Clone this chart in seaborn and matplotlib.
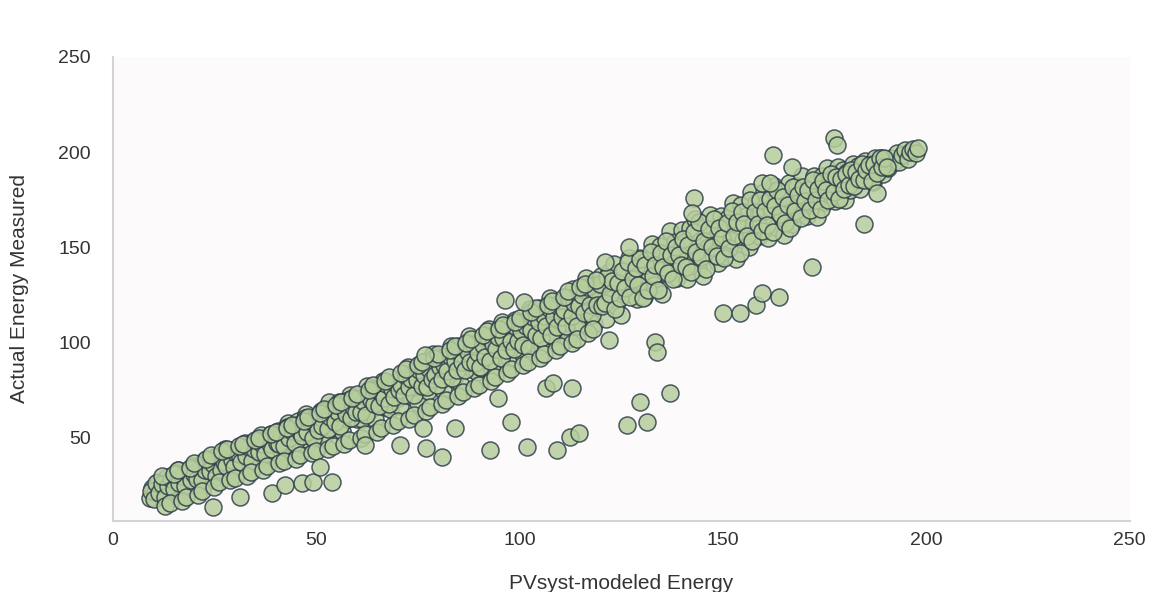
import numpy as np
import pandas as pd
import seaborn as sns
import matplotlib.pyplot as plt

# main diagonal band (modeled, measured), first pass
band_x = [9, 9.7, 10.4, 11, 11.8, 12.5, 13.2, 14, 14.6, 15.3, 16, 16.8, 17.5, 18.3, 19, 19.7,
          20.3, 21, 21.6, 22.3, 23, 23.6, 24.2, 25, 25.7, 26.3, 27, 27.6, 28.3, 29, 29.5, 30,
          30.6, 31.2, 31.9, 32.5, 33.1, 33.8, 34.4, 35, 35.7, 36.3, 37, 37.6, 38.2, 38.9, 39.5, 40,
          40.6, 41.2, 41.8, 42.5, 43.1, 43.7, 44.4, 45, 45.6, 46.3, 46.9, 47.5, 48.2, 48.8, 49.4, 50,
          50.6, 51.2, 51.9, 52.5, 53.1, 53.8, 54.4, 55, 55.6, 56.3, 56.9, 57.5, 58.2, 58.8, 59.4, 60,
          60.6, 61.2, 61.9, 62.5, 63.1, 63.8, 64.4, 65, 65.6, 66.3, 66.9, 67.5, 68.2, 68.8, 69.4, 70,
          70.6, 71.2, 71.9, 72.5, 73.1, 73.8, 74.4, 75, 75.6, 76.3, 76.9, 77.5, 78.2, 78.8, 79.4, 80,
          80.6, 81.2, 81.9, 82.5, 83.1, 83.8, 84.4, 85, 85.6, 86.3, 86.9, 87.5, 88.2, 88.8, 89.4, 90,
          90.6, 91.2, 91.9, 92.5, 93.1, 93.8, 94.4, 95, 95.6, 96.3, 96.9, 97.5, 98.2, 98.8, 99.4, 100,
          100.6, 101.2, 101.9, 102.5, 103.1, 103.8, 104.4, 105, 105.6, 106.3, 106.9, 107.5, 108.2, 108.8, 109.4, 110,
          110.6, 111.2, 111.9, 112.5, 113.1, 113.8, 114.4, 115, 115.6, 116.3, 116.9, 117.5, 118.2, 118.8, 119.4, 120,
          120.6, 121.2, 121.9, 122.5, 123.1, 123.8, 124.4, 125, 125.6, 126.3, 126.9, 127.5, 128.2, 128.8, 129.4, 130,
          130.6, 131.2, 131.9, 132.5, 133.1, 133.8, 134.4, 135, 135.6, 136.3, 136.9, 137.5, 138.2, 138.8, 139.4, 140,
          140.6, 141.2, 141.9, 142.5, 143.1, 143.8, 144.4, 145, 145.6, 146.3, 146.9, 147.5, 148.2, 148.8, 149.4, 150,
          150.6, 151.2, 151.9, 152.5, 153.1, 153.8, 154.4, 155, 155.6, 156.3, 156.9, 157.5, 158.2, 158.8, 159.4, 160,
          160.6, 161.2, 161.9, 162.5, 163.1, 163.8, 164.4, 165, 165.6, 166.3, 166.9, 167.5, 168.2, 168.8, 169.4, 170,
          170.6, 171.2, 171.9, 172.5, 173.1, 173.8, 174.4, 175, 175.6, 176.3, 176.9, 177.5, 178.2, 178.8, 179.4, 180,
          180.6, 181.2, 181.9, 182.5, 183.1, 183.8, 184.4, 185, 185.6, 186.3, 186.9, 187.5, 188.2, 188.8, 189.4, 190,
          190.6, 191.3, 192, 192.7, 193.4, 194, 194.7, 195.4, 196, 196.7, 197.4, 198]
band_y = [18.2, 23.8, 21.4, 26.9, 19.5, 25.1, 29.7, 20.4, 27.9, 24.5, 33.1, 24.8, 31.4, 23.1, 30.7, 35.3,
          34, 26, 32, 38, 30, 35, 28, 40, 34, 39, 32, 44, 37, 33, 43, 37,
          35.5, 43, 39.7, 47.3, 35.8, 44.4, 48, 40.5, 44.1, 51.7, 40.3, 48.8, 44.4, 52, 40.6, 49,
          53.5, 43.1, 51.6, 48.2, 57.8, 47.3, 55, 44.5, 59, 53.7, 49.2, 62.8, 52.4, 59.9, 49.5, 59,
          54.5, 64.1, 50.7, 61.3, 68.8, 55.4, 65, 60.5, 69, 53.7, 66.2, 59.8, 72.4, 62.9, 70.5, 60,
          70.5, 60.1, 68.7, 77.3, 64.8, 75.4, 60, 72.5, 69, 79.7, 66.2, 75.8, 65.4, 78.9, 74.5, 71,
          66.5, 81.1, 74.7, 87.3, 71.8, 79.4, 86, 68.5, 83, 76.7, 90.2, 74.8, 84.4, 93.9, 80.5, 90,
          87.6, 75.2, 92.9, 82.5, 98.1, 80.8, 89.4, 98, 77.6, 94.3, 88.9, 103.5, 86.2, 98.8, 84.4, 96,
          86.5, 101.1, 92.7, 107.3, 85.8, 99.4, 106, 93.5, 111, 98.7, 105.2, 91.8, 104.4, 111.9, 96.5, 103,
          110.6, 92.2, 106.9, 117.5, 100.1, 110.8, 105.4, 118, 98.6, 115.3, 105.9, 123.5, 103.2, 112.8, 120.4, 108,
          107.7, 123.3, 102.1, 118.8, 128.4, 114.2, 123.8, 108.5, 120.2, 133.9, 113.6, 125.3, 110, 130.7, 122.3, 135,
          129.7, 112.3, 137.1, 122.8, 141.4, 119.2, 130.8, 114.5, 138.2, 129.9, 144.6, 125.3, 137, 122.7, 144.3, 132,
          123.7, 143.3, 134.1, 151.8, 130.4, 142.2, 150.8, 125.5, 146.2, 135.9, 158.6, 141.3, 153, 133.7, 146.3, 159,
          152.6, 133.2, 159.9, 143.5, 165.1, 139.8, 153.4, 135, 160.6, 150.3, 166.9, 145.5, 155.2, 141.8, 166.4, 160,
          145.6, 165.2, 153.9, 173.5, 144.1, 161.8, 172.4, 154, 166.6, 150.3, 178.9, 162.5, 173.2, 155.8, 168.4, 179,
          173.5, 155.1, 170.7, 182.3, 160.8, 179.4, 166, 156.5, 176, 183.7, 162.2, 173.8, 182.4, 167.9, 187.5, 173,
          166.6, 181.2, 173.9, 187.5, 166.1, 180.8, 187.4, 174, 191.6, 180.3, 185.9, 174.5, 192.2, 179.8, 190.4, 175,
          189.5, 180.1, 193.7, 185.3, 192.8, 180.4, 190, 195.5, 186, 193.7, 184.2, 196.8, 191.4, 196.9, 188.5, 196,
          191.5, 197.1, 194.7, 199.3, 194.9, 198.4, 201, 196.6, 200.2, 201.8, 199.4, 202]

# main diagonal band, second pass (denser core)
band2_x = [9.3, 10, 10.7, 11.3, 12.1, 12.8, 13.5, 14.3, 14.9, 15.6, 16.3, 17.1, 17.8, 18.6, 19.3, 20,
           20.6, 21.3, 21.9, 22.6, 23.3, 23.9, 24.5, 25.3, 26, 26.6, 27.3, 27.9, 28.6, 29.3, 29.8, 30.3,
           30.9, 31.5, 32.2, 32.8, 33.4, 34.1, 34.7, 35.3, 36, 36.6, 37.3, 37.9, 38.5, 39.2, 39.8, 40.3,
           40.9, 41.5, 42.1, 42.8, 43.4, 44, 44.7, 45.3, 45.9, 46.6, 47.2, 47.8, 48.5, 49.1, 49.7, 50.3,
           50.9, 51.5, 52.2, 52.8, 53.4, 54.1, 54.7, 55.3, 55.9, 56.6, 57.2, 57.8, 58.5, 59.1, 59.7, 60.3,
           60.9, 61.5, 62.2, 62.8, 63.4, 64.1, 64.7, 65.3, 65.9, 66.6, 67.2, 67.8, 68.5, 69.1, 69.7, 70.3,
           70.9, 71.5, 72.2, 72.8, 73.4, 74.1, 74.7, 75.3, 75.9, 76.6, 77.2, 77.8, 78.5, 79.1, 79.7, 80.3,
           80.9, 81.5, 82.2, 82.8, 83.4, 84.1, 84.7, 85.3, 85.9, 86.6, 87.2, 87.8, 88.5, 89.1, 89.7, 90.3,
           90.9, 91.5, 92.2, 92.8, 93.4, 94.1, 94.7, 95.3, 95.9, 96.6, 97.2, 97.8, 98.5, 99.1, 99.7, 100.3,
           100.9, 101.5, 102.2, 102.8, 103.4, 104.1, 104.7, 105.3, 105.9, 106.6, 107.2, 107.8, 108.5, 109.1, 109.7, 110.3,
           110.9, 111.5, 112.2, 112.8, 113.4, 114.1, 114.7, 115.3, 115.9, 116.6, 117.2, 117.8, 118.5, 119.1, 119.7, 120.3,
           120.9, 121.5, 122.2, 122.8, 123.4, 124.1, 124.7, 125.3, 125.9, 126.6, 127.2, 127.8, 128.5, 129.1, 129.7, 130.3,
           130.9, 131.5, 132.2, 132.8, 133.4, 134.1, 134.7, 135.3, 135.9, 136.6, 137.2, 137.8, 138.5, 139.1, 139.7, 140.3,
           140.9, 141.5, 142.2, 142.8, 143.4, 144.1, 144.7, 145.3, 145.9, 146.6, 147.2, 147.8, 148.5, 149.1, 149.7, 150.3,
           150.9, 151.5, 152.2, 152.8, 153.4, 154.1, 154.7, 155.3, 155.9, 156.6, 157.2, 157.8, 158.5, 159.1, 159.7, 160.3,
           160.9, 161.5, 162.2, 162.8, 163.4, 164.1, 164.7, 165.3, 165.9, 166.6, 167.2, 167.8, 168.5, 169.1, 169.7, 170.3,
           170.9, 171.5, 172.2, 172.8, 173.4, 174.1, 174.7, 175.3, 175.9, 176.6, 177.2, 177.8, 178.5, 179.1, 179.7, 180.3,
           180.9, 181.5, 182.2, 182.8, 183.4, 184.1, 184.7, 185.3, 185.9, 186.6, 187.2, 187.8, 188.5, 189.1, 189.7, 190.3]
band2_y = [22.3, 17.9, 26.4, 20.9, 25.6, 19.2, 24.8, 28.5, 23, 31.6, 26.2, 29.9, 24.5, 33.2, 27.8, 31.3,
           28.5, 34.2, 27.7, 33.3, 38, 32.5, 36.1, 29.8, 39.4, 32.9, 37.6, 35.1, 43.7, 38.4, 34.8, 42.3,
           41.8, 37.4, 45, 40.5, 45.1, 37.7, 44.2, 48.8, 42.4, 46.9, 41.6, 50.1, 46.7, 44.3, 50.8, 47.3,
           46.8, 52.4, 45.9, 55.5, 50.1, 53.6, 47.2, 56.8, 53.3, 50.9, 60.5, 53, 58.7, 50.2, 57.7, 54.3,
           60.8, 56.4, 64, 54.5, 61.1, 64.7, 58.2, 63.8, 56.3, 65.9, 62.5, 70, 60.7, 66.2, 63.7, 70.3,
           63.8, 69.4, 62, 72.5, 70.1, 67.7, 75.2, 66.8, 74.3, 70.9, 78.5, 68, 75.7, 71.2, 78.7, 75.3,
           77.8, 72.4, 82, 76.5, 81.1, 72.7, 80.2, 85.8, 77.3, 82.9, 76.5, 86, 80.7, 83.2, 77.7, 87.3,
           80.9, 88.5, 85.2, 92.8, 81.4, 90.1, 85.7, 94.3, 89.9, 85.6, 95.2, 89.8, 99.5, 89.1, 94.7, 87.3,
           98.8, 92.4, 103, 90.5, 99.1, 96.7, 103.2, 91.8, 102.3, 95.9, 108.5, 101, 96.7, 108.2, 100.7, 106.3,
           98.9, 108.5, 97.2, 106.8, 113.4, 104.1, 110.7, 102.3, 113.9, 108.6, 118.2, 103.8, 113.5, 108.1, 118.7, 113.3,
           117, 108.7, 123.4, 114.1, 120.7, 108.5, 119.2, 124.8, 115.5, 129.3, 119.9, 114.6, 127.4, 120, 130.7, 119.3,
           121, 134.7, 125.4, 132.1, 117.7, 131.5, 123.2, 137.8, 128.5, 142.3, 123.9, 133.6, 139.4, 130, 143.7, 123.3,
           141, 127.7, 147.4, 135.1, 140.7, 127.5, 147.2, 139.8, 153.5, 136.3, 145.9, 133.6, 150.4, 146, 140.7, 154.3,
           139.9, 151.5, 137.2, 157.8, 147.4, 163.1, 144.7, 153.3, 138.9, 159.6, 150.2, 164.8, 145.5, 160.1, 154.7, 144.3,
           162.9, 149.5, 169.2, 155.8, 163.4, 147.1, 168.7, 162.3, 155.9, 174.6, 153.2, 168.8, 162.5, 175.1, 158.7, 169.3,
           161.8, 175.4, 158, 171.5, 180.1, 167.7, 176.2, 162.8, 172.3, 159.9, 181.5, 169, 177.7, 165.2, 181.7, 174.3,
           179.9, 169.5, 185.2, 174.8, 180.4, 170.1, 184.7, 180.3, 174.9, 188.6, 179.2, 186.8, 175.5, 186.1, 180.7, 188.3,
           182.8, 190.4, 182, 189.5, 186.1, 193.7, 185.2, 190.8, 193.3, 184.9, 193.5, 189, 196.7, 192.2, 196.7, 192.3]

# edge points of the lower half of the band
band3_x = [12, 12.9, 14, 14.9, 16, 16.9, 18, 18.9, 20, 20.9, 22, 22.9, 24, 24.9, 26, 26.9,
           28, 28.9, 30, 30.9, 32, 32.9, 34, 34.9, 36, 36.9, 38, 38.9, 40, 40.9, 42, 42.9,
           44, 44.9, 46, 46.9, 48, 48.9, 50, 50.9, 52, 52.9, 54, 54.9, 56, 56.9, 58, 58.9,
           60, 60.9, 62, 62.9, 64, 64.9, 66, 66.9, 68, 68.9, 70, 70.9, 72, 72.9, 74, 74.9,
           76, 76.9, 78, 78.9, 80, 80.9, 82, 82.9, 84, 84.9, 86, 86.9, 88, 88.9, 90, 90.9,
           92, 92.9, 94, 94.9, 96, 96.9, 98, 98.9, 100, 100.9, 102, 102.9, 104, 104.9, 106, 106.9,
           108, 108.9, 110, 110.9, 112, 112.9, 114, 114.9, 116, 116.9, 118, 118.9]
band3_y = [30, 14, 16, 31, 33, 17, 19, 34, 37, 20, 22, 39, 41, 24, 27, 43,
           44, 28, 29, 46, 47, 30, 32, 49, 50, 33, 35, 52, 53, 37, 38, 55,
           57, 39, 41, 59, 61, 42, 43, 63, 65, 44, 46, 67, 69, 47, 49, 71,
           73, 50, 52, 75, 78, 53, 55, 80, 82, 57, 59, 84, 86, 60, 62, 88,
           90, 64, 66, 92, 94, 68, 70, 96, 98, 72, 74, 100, 102, 76, 78, 104,
           106, 80, 82, 107, 109, 84, 86, 111, 113, 88, 90, 116, 118, 92, 94, 120,
           122, 96, 98, 124, 127, 100, 102, 129, 131, 105, 107, 133]

# points well below the band
low_x = [24.6, 31.2, 39.1, 42.3, 46.4, 49.1, 50.9, 53.8, 61.9, 70.5, 76.2, 77.1, 80.8, 84.0,
         92.6, 94.6, 98.0, 101.7, 109.1, 112.3, 114.7, 106.6, 108.1, 113.0, 126.5, 129.5, 131.4,
         136.9, 122.1, 133.2, 133.9, 149.9, 154.1, 158.2, 159.5, 163.9, 172.0, 184.8, 188.0]
low_y = [13.8, 19.0, 21.1, 25.3, 26.3, 26.9, 34.7, 26.9, 46.3, 46.3, 55.2, 44.7, 40.0, 55.2,
         43.7, 71.0, 58.4, 45.2, 43.7, 50.5, 52.6, 76.2, 78.8, 76.2, 56.8, 68.9, 58.4,
         73.6, 101.4, 100.4, 95.1, 115.6, 115.6, 119.8, 126.1, 124.0, 139.7, 162.3, 178.6]

# points above the band
high_x = [177.4, 178.1, 162.2, 167.1, 143.0, 142.3, 120.9, 127.0, 159.5, 161.5, 96.3, 101.2, 76.7]
high_y = [207.5, 203.8, 198.5, 192.2, 175.9, 168.1, 142.4, 150.2, 184.0, 184.0, 122.5, 121.4, 93.5]

df = pd.DataFrame({
    'modeled': band_x + band2_x + band3_x + low_x + high_x,
    'measured': band_y + band2_y + band3_y + low_y + high_y,
})

sns.set_style('white')
plt.rcParams['font.family'] = ['Liberation Sans', 'DejaVu Sans']

fig = plt.figure(figsize=(11.73, 5.92), dpi=100)
ax = fig.add_axes([0.0963, 0.12, 0.8667, 0.784])
ax.set_facecolor('#fcfafb')

sns.scatterplot(data=df, x='modeled', y='measured', ax=ax, s=150,
                color='#b6cd9c', edgecolor='#2d3e4a', linewidth=1.1, alpha=0.85)

ax.set_xlim(0, 250)
ax.set_ylim(6.4, 250)
ax.set_xticks([0, 50, 100, 150, 200, 250])
ax.set_yticks([50, 100, 150, 200, 250])

for side in ['top', 'right']:
    ax.spines[side].set_visible(False)
for side in ['left', 'bottom']:
    ax.spines[side].set_color('#d4d4d8')
    ax.spines[side].set_linewidth(1.5)

ax.tick_params(axis='x', length=0, pad=8, labelsize=14, labelcolor='#333333')
ax.tick_params(axis='y', length=0, pad=16, labelsize=14, labelcolor='#333333')
ax.set_xlabel('PVsyst-modeled Energy', fontsize=15, color='#333333', labelpad=18)
ax.set_ylabel('Actual Energy Measured', fontsize=15, color='#333333', labelpad=21)

plt.savefig('out.png', dpi=100)
